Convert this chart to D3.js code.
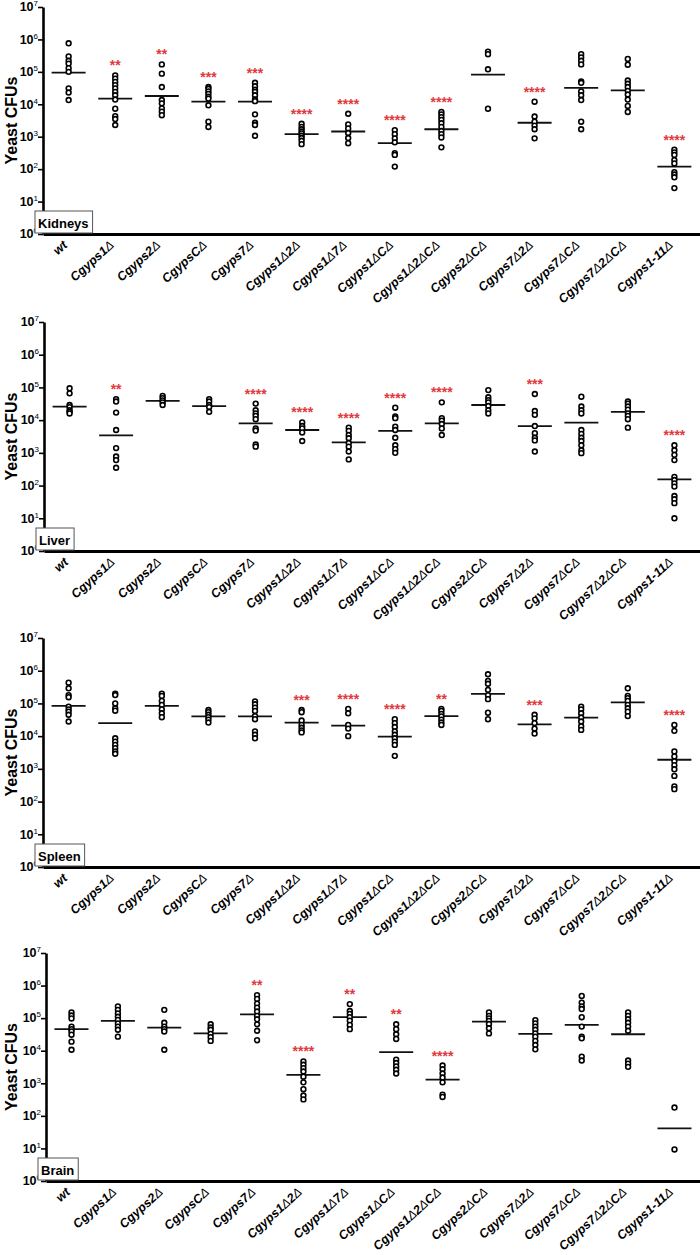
<!DOCTYPE html>
<html><head><meta charset="utf-8">
<script src="https://cdn.jsdelivr.net/npm/d3@7"></script>
<style>
body{margin:0;background:#fff}
text{font-family:"Liberation Sans",Arial,sans-serif}
</style>
</head><body>
<svg id="chart" width="700" height="1255"></svg>
<script>
const categories = ["wt","Cgyps1Δ","Cgyps2Δ","CgypsCΔ","Cgyps7Δ","Cgyps1Δ2Δ","Cgyps1Δ7Δ","Cgyps1ΔCΔ","Cgyps1Δ2ΔCΔ","Cgyps2ΔCΔ","Cgyps7Δ2Δ","Cgyps7ΔCΔ","Cgyps7Δ2ΔCΔ","Cgyps1-11Δ"];
const yTickValues = [1,10,100,1000,1e4,1e5,1e6,1e7];
const yAxisTitle = "Yeast CFUs";

const kidneysValues = [
 [7.6e5,3e5,2.2e5,1.8e5,1.3e5,1.0e5,3.1e4,2.3e4,1.35e4],
 [7.8e4,6.2e4,4.9e4,3.9e4,3.1e4,2.4e4,1.9e4,1.4e4,7.3e3,4.3e3,3.5e3,2.3e3],
 [1.7e5,8.8e4,3.4e4,1.35e4,1.07e4,7.5e3,5.9e3,4.6e3],
 [3.4e4,3.0e4,2.5e4,2.1e4,1.7e4,1.5e4,9.3e3,2.9e3,2.0e3],
 [4.6e4,3.6e4,2.8e4,2.4e4,1.9e4,1.4e4,1.25e4,4.9e3,2.7e3,2.3e3,1.07e3],
 [2.5e3,2.0e3,1.7e3,1.45e3,1.26e3,1.07e3,910,750,590],
 [5.1e3,2.4e3,1.8e3,1.3e3,910,630],
 [1.6e3,1.2e3,890,670,310,275,120],
 [5.8e3,4.9e3,4.0e3,3.3e3,2.6e3,2.0e3,1.5e3,1.2e3,950,470],
 [4.2e5,3.5e5,1.2e5,7.3e3],
 [1.2e4,4.2e3,2.9e3,2.2e3,1.7e3,890],
 [3.5e5,2.8e5,2.2e5,1.7e5,5.1e4,4.6e4,2.5e4,1.9e4,1.35e4,2.9e3,1.7e3],
 [2.5e5,1.66e5,5.4e4,4.3e4,3.4e4,2.6e4,2.0e4,1.4e4,8.9e3,5.8e3],
 [400,330,275,190,150,81,68,56,26]
];
const kidneysMedians = [9.5e4,1.5e4,1.8e4,1.2e4,1.2e4,1.2e3,1.45e3,630,1.7e3,8.2e4,2.7e3,3.2e4,2.7e4,120];
const kidneysStars = ["","**","**","***","***","****","****","****","****","","****","","","****"];

const liverValues = [
 [9.4e4,6.6e4,2.9e4,2.5e4,2.0e4,1.8e4,1.6e4],
 [4.4e4,3.7e4,1.7e4,5.0e3,1.4e3,770,600,350],
 [5.5e4,4.7e4,4.0e4,3.5e4,2.9e4],
 [4.4e4,3.7e4,2.9e4,2.5e4,1.8e4],
 [3.2e4,2.0e4,1.6e4,1.35e4,1.07e4,5.6e3,4.8e3,1.8e3,1.55e3],
 [8.5e3,6.6e3,5.6e3,4.2e3,2.3e3],
 [5.9e3,4.7e3,3.5e3,2.8e3,2.0e3,1.55e3,1.1e3,630],
 [2.4e4,1.3e4,1.15e4,6.3e3,5.0e3,2.9e3,1.7e3,1.3e3,1.0e3],
 [3.5e4,1.15e4,9.7e3,7.6e3,5.6e3,3.5e3],
 [8.3e4,5.0e4,4.1e4,3.5e4,2.7e4,2.0e4,1.6e4],
 [6.3e4,1.9e4,1.45e4,6.6e3,4.0e3,2.9e3,2.4e3,1.1e3],
 [5.2e4,2.6e4,2.0e4,1.6e4,5.0e3,3.8e3,2.9e3,2.3e3,1.7e3,1.2e3,980],
 [3.7e4,3.2e4,2.6e4,2.1e4,1.6e4,1.35e4,1.07e4,5.9e3],
 [1.7e3,1.2e3,870,600,185,148,117,93,48,38,29,10]
];
const liverMedians = [2.6e4,3.4e3,3.9e4,2.7e4,8e3,5e3,2.1e3,4.7e3,8e3,2.9e4,6.6e3,8.4e3,1.8e4,155];
const liverStars = ["","**","","","****","****","****","****","****","","***","","","****"];

const spleenValues = [
 [4.3e5,2.9e5,1.8e5,1.55e5,8e4,6.6e4,5.6e4,4.5e4,2.8e4],
 [2.0e5,1.8e5,1.0e5,7.1e4,6.0e4,8.6e3,6.8e3,5.4e3,4.3e3,3.4e3,2.9e3],
 [2.0e5,1.7e5,1.2e5,9e4,6.6e4,5e4,3.8e4],
 [6.3e4,5.4e4,4.5e4,3.8e4,3.2e4,2.6e4],
 [1.15e5,9.4e4,7.4e4,5.9e4,4.1e4,3.3e4,1.4e4,1.1e4,8.6e3],
 [6.3e4,5.4e4,3.0e4,2.2e4,1.8e4,1.5e4,1.3e4],
 [6.8e4,5.0e4,2.2e4,1.7e4,1.0e4],
 [3.3e4,2.5e4,1.9e4,1.4e4,1.1e4,8.6e3,6.8e3,5.4e3,2.5e3],
 [6.8e4,5.9e4,4.8e4,4.0e4,3.2e4,2.6e4,2.2e4],
 [7.8e5,4.9e5,4.0e5,2.6e5,1.8e5,1.35e5,5.2e4,3.3e4],
 [4.5e4,3.5e4,2.5e4,1.7e4,1.2e4],
 [8e4,6.6e4,5.0e4,3.7e4,2.8e4,2.0e4,1.55e4],
 [2.9e5,1.7e5,1.45e5,1.2e5,9e4,7.1e4,5.6e4,4.1e4],
 [2.2e4,1.45e4,3.4e3,2.4e3,1.7e3,1.3e3,970,610,290,240]
];
const spleenMedians = [8.4e4,2.5e4,8.4e4,4e4,4e4,2.6e4,2.1e4,9.7e3,4.1e4,1.95e5,2.3e4,3.7e4,1.07e5,1.9e3];
const spleenStars = ["","","","","","***","****","****","**","","***","","","****"];

const brainValues = [
 [1.5e5,1.2e5,9.8e4,5.5e4,4.6e4,3.9e4,3.1e4,1.9e4,1.07e4],
 [2.3e5,1.8e5,1.4e5,1.1e5,8.8e4,6.9e4,5.5e4,4.4e4,2.7e4],
 [1.8e5,7.2e4,5.5e4,4.6e4,3.9e4,1.07e4],
 [6.5e4,5.2e4,4.4e4,3.3e4,2.6e4,2.0e4],
 [5.1e5,3.9e5,2.8e5,2.1e5,1.6e5,1.17e5,9.2e4,6.5e4,4.1e4,2.1e4],
 [4.7e3,3.7e3,2.9e3,2.3e3,1.6e3,1.07e3,660,420,320],
 [2.7e5,1.65e5,1.35e5,1.07e5,8.4e4,6.2e4,4.6e4],
 [6.5e4,4.6e4,3.2e4,2.3e4,5.3e3,4.2e3,3.3e3,2.6e3,2.0e3],
 [3.5e3,2.7e3,2.0e3,1.5e3,1.07e3,450,380],
 [1.5e5,1.17e5,9.8e4,8.2e4,6.6e4,4.9e4,3.4e4],
 [8.7e4,6.9e4,5.5e4,4.4e4,3.4e4,2.7e4,2.0e4,1.5e4,1.1e4],
 [4.8e5,3.0e5,2.3e5,1.9e5,1.07e5,5.5e4,2.7e4,2.4e4,6.6e3,5.0e3],
 [1.5e5,1.17e5,9.2e4,7.2e4,5.5e4,4.1e4,5.0e3,4.0e3,3.2e3],
 [180,9.3]
];
const brainMedians = [4.6e4,8.2e4,5.1e4,3.4e4,1.3e5,1.8e3,1.07e5,9e3,1.3e3,7.8e4,3.3e4,6.2e4,3.2e4,41];
const brainStars = ["","","","","**","****","**","**","****","","","","",""];

const panelNames = ["Kidneys","Liver","Spleen","Brain"];

const svg = d3.select("#chart");
const layout = [
  {top:7, bottom:234, axisX:43},
  {top:322, bottom:551, axisX:44},
  {top:638, bottom:867, axisX:43},
  {top:953, bottom:1181, axisX:46}
];
const dataSets = [
  [kidneysValues,kidneysMedians,kidneysStars],
  [liverValues,liverMedians,liverStars],
  [spleenValues,spleenMedians,spleenStars],
  [brainValues,brainMedians,brainStars]
];

panelNames.forEach((name,pi)=>{
  const L = layout[pi];
  const [vals, meds, stars] = dataSets[pi];
  const g = svg.append("g");
  const y = d3.scaleLog().domain([1,1e7]).range([L.bottom, L.top]);
  const x = d3.scalePoint().domain(categories).range([L.axisX, 700]).padding(0.55);

  // y axis
  const ya = g.append("g").attr("transform",`translate(${L.axisX},0)`)
    .call(d3.axisLeft(y).tickValues(yTickValues).tickSize(5).tickSizeOuter(0).tickFormat(()=>""));
  ya.select(".domain").attr("stroke","#000").attr("stroke-width",2.6);
  ya.selectAll(".tick line").attr("stroke","#000").attr("stroke-width",1.6);
  ya.selectAll(".tick text").each(function(d){
    const t = d3.select(this).attr("x",-5).attr("text-anchor","end").attr("dy","0.38em").attr("fill","#000");
    t.append("tspan").text("10").attr("font-size",12.5).attr("font-weight","bold");
    t.append("tspan").text(Math.round(Math.log10(d))).attr("font-size",8).attr("dy",-5);
  });

  // y title
  g.append("text").attr("transform",`translate(17,${(L.top+L.bottom)/2}) rotate(-90)`)
    .attr("text-anchor","middle").attr("font-size",16).attr("font-weight","bold").text(yAxisTitle);

  // x axis
  const xa = g.append("g").attr("transform",`translate(0,${L.bottom})`)
    .call(d3.axisBottom(x).tickSize(0).tickSizeOuter(0));
  xa.select(".domain").attr("stroke","#000").attr("stroke-width",3);
  xa.selectAll(".tick text").each(function(d){
    const t = d3.select(this).text("").attr("y",0).attr("x",0).attr("dy","0.35em")
      .attr("text-anchor","end").attr("fill","#000").attr("font-size",12.5)
      .attr("transform","translate(-4,9) rotate(-42)");
    const parts = d.split("Δ");
    parts.forEach((p,i)=>{
      if(p) t.append("tspan").text(p).attr("font-weight","bold").attr("font-style","italic");
      if(i<parts.length-1) t.append("tspan").text("Δ").attr("font-weight","normal").attr("font-style","italic");
    });
  });

  // medians
  g.append("g").selectAll("line").data(categories).join("line")
    .attr("x1",c=>x(c)-17).attr("x2",c=>x(c)+17)
    .attr("y1",(c,i)=>y(meds[i])).attr("y2",(c,i)=>y(meds[i]))
    .attr("stroke","#111").attr("stroke-width",1.8);

  // points
  const pts = [];
  categories.forEach((c,i)=>vals[i].forEach(v=>pts.push({c,v})));
  g.append("g").selectAll("circle").data(pts).join("circle")
    .attr("cx",d=>x(d.c)).attr("cy",d=>y(d.v)).attr("r",2.4)
    .attr("fill","#fff").attr("stroke","#000").attr("stroke-width",1.6);

  // stars
  g.append("g").selectAll("text").data(categories.map((c,i)=>({c,s:stars[i],m:d3.max(vals[i])})).filter(d=>d.s))
    .join("text").attr("x",d=>x(d.c)).attr("y",d=>y(d.m)-5)
    .attr("text-anchor","middle").attr("font-size",14).attr("font-weight","bold")
    .attr("fill","#e0393e").text(d=>d.s);

  // panel label box
  const box = g.append("rect");
  const lbl = g.append("text").attr("x",L.axisX-5).attr("y",L.bottom-6)
    .attr("font-size",13).attr("font-weight","bold").text(name);
  const w = lbl.node().getComputedTextLength();
  box.attr("x",L.axisX-8).attr("y",L.bottom-23)
    .attr("width",w+7).attr("height",22).attr("fill","#fff").attr("stroke","#555").attr("stroke-width",1);
});
</script>
</body></html>
